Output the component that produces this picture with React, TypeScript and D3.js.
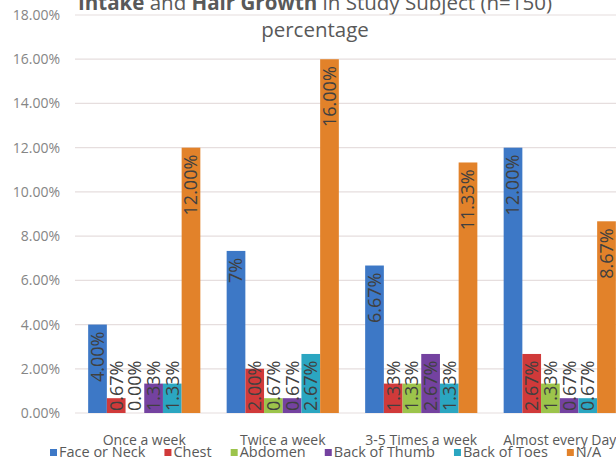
import React from "react";
import * as d3 from "d3";

// Frequency categories (x axis)
const categories = ["Once a week", "Twice a week", "3-5 Times a week", "Almost every Day"];

// Series names, in legend/bar order
const seriesNames = ["Face or Neck", "Chest", "Abdomen", "Back of Thumb", "Back of Toes", "N/A"];

// Percentages of subjects per site (n=150)
const faceNeck = [4.0, 7.33, 6.67, 12.0];
const chest = [0.67, 2.0, 1.33, 2.67];
const abdomen = [0.0, 0.67, 1.33, 1.33];
const backOfThumb = [1.33, 0.67, 2.67, 0.67];
const backOfToes = [1.33, 2.67, 1.33, 0.67];
const notApplicable = [12.0, 16.0, 11.33, 8.67];

// Decimal places used by each data label (one point shows whole percent)
const faceNeckDecimals = [2, 0, 2, 2];

const yTicks = [0, 2, 4, 6, 8, 10, 12, 14, 16, 18];

const seriesColors = ["#3d78c6", "#d03a3a", "#9cc44b", "#7442a0", "#2ba6c1", "#e2822a"];

const W = 616;
const H = 459;
const FONT = "'Open Sans', 'DejaVu Sans', sans-serif";

const seriesValues = [faceNeck, chest, abdomen, backOfThumb, backOfToes, notApplicable];
const seriesDecimals = seriesValues.map((s, i) =>
  i === 0 ? faceNeckDecimals : s.map(() => 2)
);

let ctx: CanvasRenderingContext2D | null = null;
function textWidth(text: string, size: number, weight = "normal") {
  if (!ctx) ctx = document.createElement("canvas").getContext("2d");
  if (!ctx) return text.length * size * 0.55;
  ctx.font = `${weight} ${size}px 'Open Sans'`;
  return ctx.measureText(text).width;
}

export default function App() {
  const plotLeft = 75;
  const plotRight = 629;
  const y = d3.scaleLinear().domain([0, 18]).range([413, 15]);

  const x0 = d3
    .scaleBand<string>()
    .domain(categories)
    .range([plotLeft, plotRight])
    .paddingInner(0.19)
    .paddingOuter(0.095);

  const x1 = d3
    .scaleBand<string>()
    .domain(seriesNames)
    .range([0, x0.bandwidth()])
    .padding(0);

  const labelSize = 18;
  const fmt = (v: number, d: number) => d3.format(`.${d}f`)(v) + "%";

  // Legend layout: marker, gap, text, spacing
  const legendSize = 14.5;
  let lx = 50;
  const legendItems = seriesNames.map((name, i) => {
    const item = { name, color: seriesColors[i], x: lx };
    lx += 9 + textWidth(name, legendSize) + 19;
    return item;
  });

  return (
    <svg
      width={W}
      height={H}
      style={{ position: "fixed", left: 0, top: 0, background: "#fff" }}
      fontFamily={FONT}
    >
      <rect width={W} height={H} fill="#fff" />

      {/* Title */}
      <text x={315} y={10} textAnchor="middle" fontSize={20.5} fill="#595959">
        <tspan fontWeight="bold">Intake</tspan>
        <tspan> and </tspan>
        <tspan fontWeight="bold">Hair Growth</tspan>
        <tspan> in Study Subject (n=150)</tspan>
      </text>
      <text x={315} y={37} textAnchor="middle" fontSize={20.5} fill="#595959">
        percentage
      </text>

      {/* Gridlines and y tick labels */}
      {yTicks.map((t) => (
        <g key={t}>
          <line
            x1={plotLeft}
            x2={plotRight}
            y1={y(t)}
            y2={y(t)}
            stroke="#e6dede"
            strokeWidth={1.2}
          />
          <text
            x={60}
            y={y(t)}
            dy="0.36em"
            textAnchor="end"
            fontSize={14}
            fill="#858585"
          >
            {d3.format(".2f")(t) + "%"}
          </text>
        </g>
      ))}

      {/* Bars */}
      {categories.map((c, ci) => (
        <g key={c} transform={`translate(${x0(c)},0)`}>
          {seriesNames.map((s, si) => {
            const v = seriesValues[si][ci];
            const bx = x1(s) as number;
            const top = y(v);
            return (
              <rect
                key={s}
                x={bx}
                y={top}
                width={x1.bandwidth()}
                height={y(0) - top}
                fill={seriesColors[si]}
              />
            );
          })}
        </g>
      ))}

      {/* Data labels, rotated */}
      {categories.map((c, ci) => (
        <g key={c} transform={`translate(${x0(c)},0)`}>
          {seriesNames.map((s, si) => {
            const v = seriesValues[si][ci];
            const label = fmt(v, seriesDecimals[si][ci]);
            const len = textWidth(label, labelSize);
            const cx = (x1(s) as number) + x1.bandwidth() / 2;
            const top = y(v);
            const base = y(0);
            const inset = 7;
            const fits = base - top >= len + inset + 2;
            const py = fits ? top + inset : base - 2;
            return (
              <text
                key={s}
                transform={`translate(${cx},${py}) rotate(-90)`}
                textAnchor={fits ? "end" : "start"}
                dy="0.36em"
                fontSize={labelSize}
                fill="#404040"
              >
                {label}
              </text>
            );
          })}
        </g>
      ))}

      {/* Category labels */}
      {categories.map((c) => (
        <text
          key={c}
          x={(x0(c) as number) + x0.bandwidth() / 2}
          y={445}
          textAnchor="middle"
          fontSize={14}
          fill="#595959"
        >
          {c}
        </text>
      ))}

      {/* Legend */}
      {legendItems.map((it) => (
        <g key={it.name}>
          <rect x={it.x} y={449} width={7} height={7} fill={it.color} />
          <text x={it.x + 9} y={457} fontSize={legendSize} fill="#595959">
            {it.name}
          </text>
        </g>
      ))}
    </svg>
  );
}
